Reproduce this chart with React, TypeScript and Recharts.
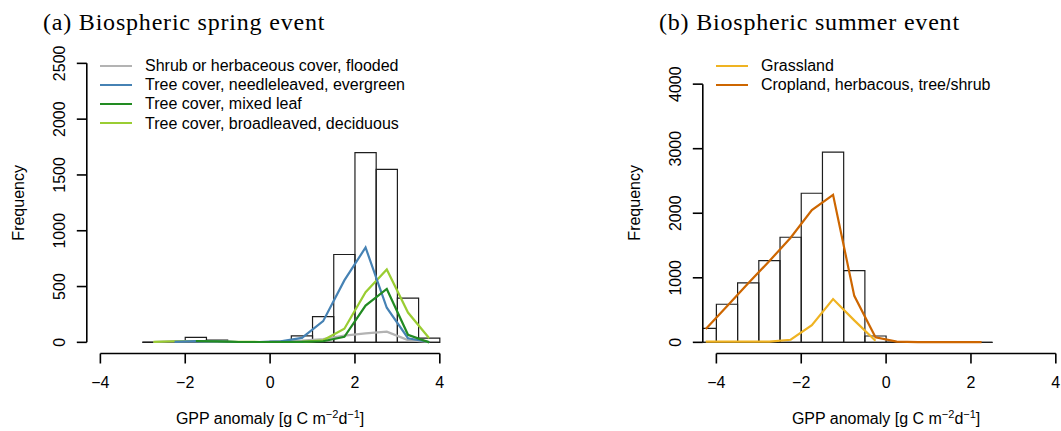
import { ComposedChart, Label, Legend, Line, ReferenceArea, ReferenceLine, XAxis, YAxis } from 'recharts';

// ---- (a) biospheric spring event ----
const springBinStarts = [-3, -2.5, -2, -1.5, -1, -0.5, 0, 0.5, 1, 1.5, 2, 2.5, 3, 3.5];
const springCounts = [3, 2, 45, 20, 5, 4, 8, 58, 230, 787, 1700, 1550, 397, 37];
const springMids = [-2.75, -2.25, -1.75, -1.25, -0.75, -0.25, 0.25, 0.75, 1.25, 1.75, 2.25, 2.75, 3.25, 3.75];
const springShrub = [3, 10, 8, 5, 3, 3, 8, 15, 30, 60, 80, 95, 20, 3];
const springNeedle = [null, 5, 10, 8, 3, 3, 8, 40, 190, 555, 850, 310, 37, 3];
const springMixed = [null, null, 12, 8, 3, 3, 3, 5, 10, 50, 330, 478, 68, 0];
const springBroad = [5, 10, 12, 10, 5, 3, 3, 5, 18, 122, 450, 653, 267, 37];

// ---- (b) biospheric summer event ----
const summerBinStarts = [-4.5, -4, -3.5, -3, -2.5, -2, -1.5, -1, -0.5, 0, 0.5, 1, 1.5, 2];
const summerCounts = [215, 590, 920, 1266, 1628, 2310, 2946, 1110, 98, 5, 2, 1, 1, 1];
const summerMids = [-4.25, -3.75, -3.25, -2.75, -2.25, -1.75, -1.25, -0.75, -0.25, 0.25, 0.75, 1.25, 1.75, 2.25];
const summerGrass = [10, 12, 12, 12, 40, 265, 670, 340, 25, null, null, null, null, null];
const summerCrop = [205, 560, 915, 1260, 1620, 2050, 2285, 720, 78, 10, 3, 3, 3, 3];

const X_TICKS = [-4, -2, 0, 2, 4];
const springYTicks = [0, 500, 1000, 1500, 2000, 2500];
const summerYTicks = [0, 1000, 2000, 3000, 4000];

const SANS = '"Liberation Sans", Arial, Helvetica, sans-serif';
const SERIF = '"Liberation Serif", "Times New Roman", serif';
const BIN_WIDTH = 0.5;

// R pads the axis range by 4% on each side
const pad = ([lo, hi]: number[]) => [lo - (hi - lo) * 0.04, hi + (hi - lo) * 0.04];

type Series = { key: string; name: string; color: string; values: (number | null)[] };

const springSeries: Series[] = [
  { key: 'shrub', name: 'Shrub or herbaceous cover, flooded', color: '#b3b3b3', values: springShrub },
  { key: 'needle', name: 'Tree cover, needleleaved, evergreen', color: '#4682b4', values: springNeedle },
  { key: 'mixed', name: 'Tree cover, mixed leaf', color: '#228b22', values: springMixed },
  { key: 'broad', name: 'Tree cover, broadleaved, deciduous', color: '#9acd32', values: springBroad },
];
const springDrawOrder = ['shrub', 'broad', 'needle', 'mixed'];

const summerSeries: Series[] = [
  { key: 'grass', name: 'Grassland', color: '#efb322', values: summerGrass },
  { key: 'crop', name: 'Cropland, herbacous, tree/shrub', color: '#cd6600', values: summerCrop },
];
const summerDrawOrder = ['grass', 'crop'];

function buildRows(mids: number[], series: Series[]) {
  return mids.map((x, i) => {
    const row: Record<string, number | null> = { x };
    series.forEach((s) => (row[s.key] = s.values[i]));
    return row;
  });
}

const minus = (v: number) => String(v).replace('-', '\u2212');

const XTick = ({ x, y, payload }: any) => (
  <text x={x} y={y} textAnchor="middle" fontSize={16} fontFamily={SANS} fill="#000">
    {minus(payload.value)}
  </text>
);

const YTick = ({ x, y, payload }: any) => (
  <text x={x} y={y} transform={`rotate(-90 ${x} ${y})`} textAnchor="middle" fontSize={16} fontFamily={SANS} fill="#000">
    {payload.value}
  </text>
);

function LegendBox({ series }: { series: Series[] }) {
  return (
    <div style={{ fontFamily: SANS, fontSize: 16 }}>
      {series.map((s) => (
        <div key={s.key} style={{ display: 'flex', alignItems: 'center', height: 19.1, whiteSpace: 'nowrap' }}>
          <span style={{ display: 'inline-block', width: 31.7, height: 2.3, background: s.color, marginRight: 13.3 }} />
          <span style={{ lineHeight: '19px' }}>{s.name}</span>
        </div>
      ))}
    </div>
  );
}

type PanelProps = {
  left: number;
  title: string;
  binStarts: number[];
  counts: number[];
  mids: number[];
  series: Series[];
  drawOrder: string[];
  ylim: number[];
  yTicks: number[];
};

function Panel({ left, title, binStarts, counts, mids, series, drawOrder, ylim, yTicks }: PanelProps) {
  const xDomain = pad([X_TICKS[0], X_TICKS[X_TICKS.length - 1]]);
  const yDomain = pad(ylim);
  const rows = buildRows(mids, series);
  const binEnd = binStarts[binStarts.length - 1] + BIN_WIDTH;

  return (
    <div style={{ position: 'absolute', left, top: 0, width: 530, height: 431 }}>
      <div
        style={{
          position: 'absolute',
          left: 43,
          top: 10,
          fontFamily: SERIF,
          fontSize: 24,
          lineHeight: '24px',
          letterSpacing: 0.8,
          whiteSpace: 'nowrap',
          zIndex: 2,
        }}
      >
        {title}
      </div>
      <ComposedChart
        width={530}
        height={431}
        data={rows}
        margin={{ top: 52.2, right: 76.6, bottom: 17.5, left: 26.8 }}
      >
        <XAxis
          dataKey="x"
          type="number"
          domain={xDomain}
          allowDataOverflow
          ticks={X_TICKS}
          interval={0}
          axisLine={false}
          tickLine={{ stroke: '#000', strokeWidth: 1.6 }}
          tickSize={10}
          tickMargin={24.8}
          tick={XTick}
          height={60}
        >
          <Label
            content={({ viewBox }: any) => (
              <text
                x={viewBox.x + viewBox.width / 2}
                y={viewBox.y + 70}
                textAnchor="middle"
                fontSize={16}
                fontFamily={SANS}
                fill="#000"
              >
                GPP anomaly [g C m
                <tspan dy={-6} fontSize={11}>{'\u22122'}</tspan>
                <tspan dy={6}>d</tspan>
                <tspan dy={-6} fontSize={11}>{'\u22121'}</tspan>
                <tspan dy={6}>]</tspan>
              </text>
            )}
          />
        </XAxis>
        <YAxis
          type="number"
          domain={yDomain}
          allowDataOverflow
          ticks={yTicks}
          interval={0}
          axisLine={false}
          tickLine={{ stroke: '#000', strokeWidth: 1.6 }}
          tickSize={10}
          tickMargin={11.8}
          tick={YTick}
          width={60}
        >
          <Label
            content={({ viewBox }: any) => {
              const cx = 24;
              const cy = viewBox.y + viewBox.height / 2;
              return (
                <text
                  x={cx}
                  y={cy}
                  transform={`rotate(-90 ${cx} ${cy})`}
                  textAnchor="middle"
                  fontSize={16}
                  fontFamily={SANS}
                  fill="#000"
                >
                  Frequency
                </text>
              );
            }}
          />
        </YAxis>

        {binStarts.map((b, i) => (
          <ReferenceArea
            key={`bin${i}`}
            x1={b}
            x2={b + BIN_WIDTH}
            y1={0}
            y2={counts[i]}
            ifOverflow="hidden"
            fill="none"
            stroke="#1e1e1e"
            strokeWidth={1.2}
          />
        ))}
        <ReferenceLine
          segment={[
            { x: binStarts[0], y: 0 },
            { x: binEnd, y: 0 },
          ]}
          ifOverflow="hidden"
          stroke="#1e1e1e"
          strokeWidth={1.2}
        />

        {drawOrder.map((k) => {
          const s = series.find((d) => d.key === k)!;
          return (
            <Line
              key={s.key}
              dataKey={s.key}
              name={s.name}
              type="linear"
              stroke={s.color}
              strokeWidth={2.2}
              dot={false}
              activeDot={false}
              connectNulls={false}
              isAnimationActive={false}
            />
          );
        })}

        {/* R-style axis lines spanning only the tick range */}
        <ReferenceLine
          segment={[
            { x: X_TICKS[0], y: yDomain[0] },
            { x: X_TICKS[X_TICKS.length - 1], y: yDomain[0] },
          ]}
          ifOverflow="visible"
          stroke="#000"
          strokeWidth={1.6}
        />
        <ReferenceLine
          segment={[
            { x: xDomain[0], y: yTicks[0] },
            { x: xDomain[0], y: yTicks[yTicks.length - 1] },
          ]}
          ifOverflow="visible"
          stroke="#000"
          strokeWidth={1.6}
        />

        <Legend
          layout="vertical"
          align="center"
          verticalAlign="middle"
          wrapperStyle={{ left: 100, top: 56.2, width: 420 }}
          content={() => <LegendBox series={series} />}
        />
      </ComposedChart>
    </div>
  );
}

export default function App() {
  return (
    <div
      style={{
        position: 'absolute',
        left: 0,
        top: 0,
        width: 1061,
        height: 431,
        overflow: 'hidden',
        background: '#fff',
      }}
    >
      <Panel
        left={0}
        title="(a) Biospheric spring event"
        binStarts={springBinStarts}
        counts={springCounts}
        mids={springMids}
        series={springSeries}
        drawOrder={springDrawOrder}
        ylim={[0, 2500]}
        yTicks={springYTicks}
      />
      <Panel
        left={616}
        title="(b) Biospheric summer event"
        binStarts={summerBinStarts}
        counts={summerCounts}
        mids={summerMids}
        series={summerSeries}
        drawOrder={summerDrawOrder}
        ylim={[0, 4322]}
        yTicks={summerYTicks}
      />
    </div>
  );
}
